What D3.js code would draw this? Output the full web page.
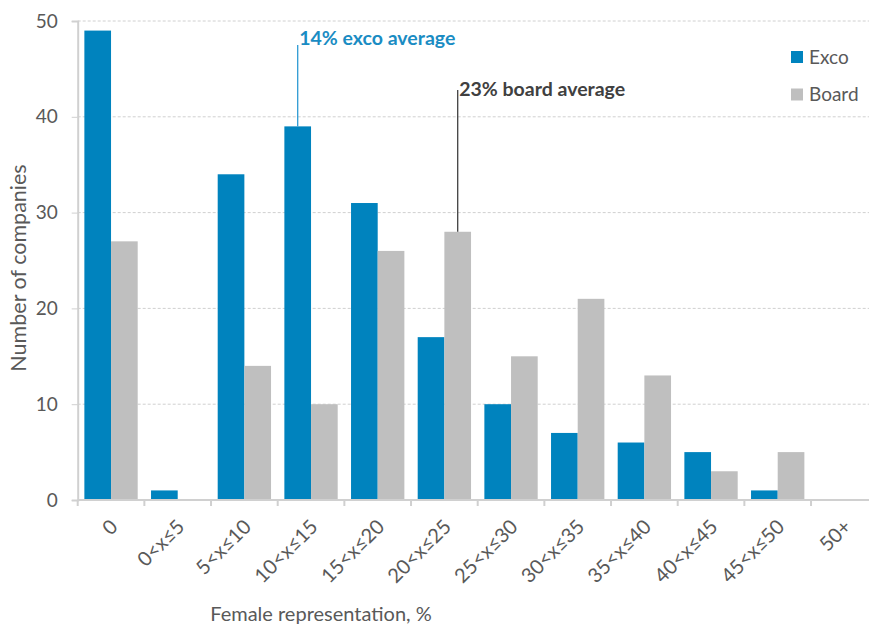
<!DOCTYPE html>
<html>
<head>
<meta charset="utf-8">
<script src="https://cdn.jsdelivr.net/npm/d3@7"></script>
<style>
  html, body { margin: 0; padding: 0; background: #fff; }
  svg { display: block; font-family: Lato, "Noto Sans", sans-serif; }
</style>
</head>
<body>
<svg id="chart" width="869" height="625"></svg>
<script>
// Female representation buckets (percent)
const categories = ["0", "0<x≤5", "5<x≤10", "10<x≤15", "15<x≤20", "20<x≤25",
                    "25<x≤30", "30<x≤35", "35<x≤40", "40<x≤45", "45<x≤50", "50+"];
const seriesNames = ["Exco", "Board"];
// Number of companies in each bucket
const excoValues  = [49, 1, 34, 39, 31, 17, 10, 7, 6, 5, 1, 0];
const boardValues = [27, 0, 14, 10, 26, 28, 15, 21, 13, 3, 5, 0];
const yTicks = [0, 10, 20, 30, 40, 50];

// Average markers: which bucket/series bar they point to, and the label height (in companies)
const averages = [
  { label: "14% exco average",  category: "10<x≤15", series: "Exco",  labelAt: 47.5 },
  { label: "23% board average", category: "20<x≤25", series: "Board", labelAt: 42.8 }
];

const colors = { Exco: "#0083BE", Board: "#BFBFBF" };
const textColor = "#595959";

const svg = d3.select("#chart");
const plotLeft = 77.7, plotRight = 877.7, plotTop = 21, plotBottom = 500;

const x0 = d3.scaleBand().domain(categories).range([plotLeft, plotRight]).padding(0);
const x1 = d3.scaleBand().domain(seriesNames).range([0, x0.bandwidth()])
  .paddingInner(0).paddingOuter(0.25);
const y = d3.scaleLinear().domain([0, 50]).range([plotBottom, plotTop]);

const rows = categories.map((c, i) => ({ category: c, Exco: excoValues[i], Board: boardValues[i] }));

// Horizontal gridlines
svg.append("g")
  .selectAll("line")
  .data(yTicks.filter(t => t > 0))
  .join("line")
  .attr("x1", plotLeft).attr("x2", 869)
  .attr("y1", d => y(d)).attr("y2", d => y(d))
  .attr("stroke", "#D0D0D0")
  .attr("stroke-width", 1)
  .attr("stroke-dasharray", "3,2");

// Bars
const groups = svg.append("g")
  .selectAll("g")
  .data(rows)
  .join("g")
  .attr("transform", d => `translate(${x0(d.category)},0)`);

groups.selectAll("rect")
  .data(d => seriesNames.map(s => ({ series: s, value: d[s] })))
  .join("rect")
  .attr("x", d => x1(d.series))
  .attr("width", x1.bandwidth())
  .attr("y", d => y(d.value))
  .attr("height", d => y(0) - y(d.value))
  .attr("fill", d => colors[d.series]);

// Y axis
const yAxis = svg.append("g")
  .attr("transform", `translate(${plotLeft},0)`)
  .call(d3.axisLeft(y).tickValues(yTicks).tickSize(6).tickPadding(14));
yAxis.select(".domain").attr("stroke", "#D0D0D0").attr("stroke-width", 2);
yAxis.selectAll(".tick line").attr("stroke", "#D0D0D0");
yAxis.selectAll(".tick text")
  .attr("fill", textColor)
  .style("font-size", "19px")
  .style("font-family", "Lato, sans-serif");

// X axis with ticks at bucket boundaries
const xAxis = svg.append("g")
  .attr("transform", `translate(0,${plotBottom})`);
xAxis.append("line")
  .attr("x1", plotLeft).attr("x2", 869)
  .attr("stroke", "#D0D0D0").attr("stroke-width", 2);
xAxis.selectAll(".bound")
  .data(categories)
  .join("line")
  .attr("class", "bound")
  .attr("x1", d => x0(d)).attr("x2", d => x0(d))
  .attr("y1", 0).attr("y2", 6)
  .attr("stroke", "#D0D0D0").attr("stroke-width", 2);
xAxis.selectAll(".lbl")
  .data(categories)
  .join("text")
  .attr("class", "lbl")
  .attr("transform", d => `translate(${x0(d) + x0.bandwidth() / 2 + 8},${28}) rotate(-45)`)
  .attr("text-anchor", "end")
  .attr("fill", textColor)
  .style("font-size", "20px")
  .text(d => d);

// Axis titles
svg.append("text")
  .attr("x", 321).attr("y", 621)
  .attr("text-anchor", "middle")
  .attr("fill", textColor)
  .style("font-size", "20px")
  .text("Female representation, %");

svg.append("text")
  .attr("transform", `translate(26,${268}) rotate(-90)`)
  .attr("text-anchor", "middle")
  .attr("fill", textColor)
  .style("font-size", "21.5px")
  .text("Number of companies");

// Average annotations
const annColors = { Exco: { line: "#2E9BD3", text: "#1A8CC3" }, Board: { line: "#404040", text: "#404040" } };
averages.forEach(a => {
  const cx = x0(a.category) + x1(a.series) + x1.bandwidth() / 2;
  const value = a.series === "Exco" ? excoValues[categories.indexOf(a.category)]
                                    : boardValues[categories.indexOf(a.category)];
  svg.append("line")
    .attr("x1", cx).attr("x2", cx)
    .attr("y1", y(a.labelAt)).attr("y2", y(value))
    .attr("stroke", annColors[a.series].line)
    .attr("stroke-width", 1.3);
  svg.append("text")
    .attr("x", cx + 1.5)
    .attr("y", a.series === "Exco" ? y(a.labelAt) : y(a.labelAt) + 6.5)
    .attr("fill", annColors[a.series].text)
    .style("font-size", "19.5px")
    .style("font-weight", "bold")
    .text(a.label);
});

// Legend
const legend = svg.append("g").attr("transform", "translate(791,51)");
seriesNames.forEach((s, i) => {
  const g = legend.append("g").attr("transform", `translate(0,${i * 37.5})`);
  g.append("rect").attr("width", 12).attr("height", 12).attr("fill", colors[s]);
  g.append("text")
    .attr("x", 18).attr("y", 6).attr("dy", "0.35em")
    .attr("fill", textColor)
    .style("font-size", "19px")
    .text(s);
});
</script>
</body>
</html>
